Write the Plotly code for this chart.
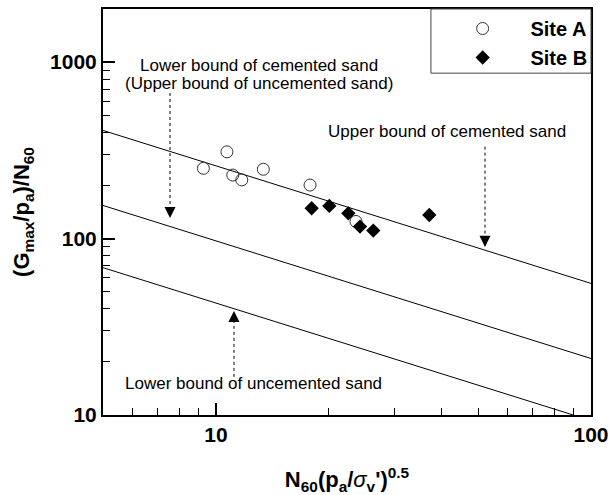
import plotly.graph_objects as go

# Normalised blow count N60(pa/σv')^0.5 and normalised stiffness (Gmax/pa)/N60
site_a_n = [9.26, 10.7, 11.09, 11.72, 13.38, 17.82, 23.63]
site_a_g = [250, 310, 229, 215, 247, 201, 125]

site_b_n = [18.0, 20.06, 22.54, 24.22, 26.28, 37.06]
site_b_g = [148.5, 153, 139, 117, 111, 136]

# Bound lines (straight on log-log), given by their end points
bound_x = [5, 100]
upper_cemented = [410, 55.7]
lower_cemented = [154, 20.9]
lower_uncemented = [68.4, 9.3]

FONT = "Liberation Sans, Arial, Helvetica, sans-serif"

fig = go.Figure()

for ys in (upper_cemented, lower_cemented, lower_uncemented):
    fig.add_trace(go.Scatter(x=bound_x, y=ys, mode="lines",
                             line=dict(color="black", width=1),
                             showlegend=False, hoverinfo="skip"))

fig.add_trace(go.Scatter(x=site_a_n, y=site_a_g, mode="markers",
                         name="\u00a0\u00a0\u00a0\u00a0\u00a0Site A",
                         marker=dict(symbol="circle-open", size=12,
                                     color="#333", line=dict(width=1))))
fig.add_trace(go.Scatter(x=site_b_n, y=site_b_g, mode="markers",
                         name="\u00a0\u00a0\u00a0\u00a0\u00a0Site B",
                         marker=dict(symbol="diamond", size=11, color="black")))

# Legend frame
fig.add_shape(type="rect", xref="paper", yref="paper",
              x0=0.672, x1=1.0, y0=0.842, y1=1.0,
              line=dict(color="#444", width=1), fillcolor="rgba(0,0,0,0)")

ann_font = dict(family=FONT, size=17, color="black")

labels = [
    ("Lower bound of cemented sand", 0.319, 0.862),
    ("(Upper bound of uncemented sand)", 0.319, 0.817),
    ("Upper bound of cemented sand", 0.704, 0.699),
    ("Lower bound of uncemented sand", 0.308, 0.077),
]
for text, x, y in labels:
    fig.add_annotation(text=text, x=x, y=y, xref="paper", yref="paper",
                       showarrow=False, font=ann_font,
                       xanchor="center", yanchor="middle")

# Dotted pointer shafts (x, tail y, tip y) with solid heads
pointers = [
    (0.1373, 0.793, 0.485),
    (0.7828, 0.661, 0.414),
    (0.2684, 0.094, 0.256),
]
for x, y_tail, y_tip in pointers:
    fig.add_shape(type="line", xref="paper", yref="paper",
                  x0=x, x1=x, y0=y_tail, y1=y_tip,
                  line=dict(color="black", width=1, dash="dot"))
    direction = -1 if y_tip < y_tail else 1
    fig.add_annotation(x=x, y=y_tip, xref="paper", yref="paper",
                       ax=0, ay=9 * direction, showarrow=True,
                       arrowhead=2, arrowsize=1.7, arrowwidth=1.3,
                       arrowcolor="black", text="")

fig.update_xaxes(
    type="log", range=[0.69897, 2.0], automargin=False,
    showline=True, linecolor="black", linewidth=2, mirror=True,
    showgrid=False, zeroline=False,
    ticks="inside", ticklen=12, tickwidth=1.5, tickcolor="black",
    tickvals=[10, 100], ticktext=["10", "100"],
    tickfont=dict(family=FONT, size=21, color="black", weight="bold"),
    minor=dict(ticks="inside", ticklen=7, tickwidth=1.2, tickcolor="black",
               tickvals=[5, 6, 7, 8, 9, 20, 30, 40, 50, 60, 70, 80, 90],
               showgrid=False),
    title=dict(text="N<sub>60</sub>(p<sub>a</sub>/<span style=\"font-weight:normal;font-style:italic\">σ</span><sub>v</sub>')<sup>0.5</sup>",
               font=dict(family=FONT, size=22, color="black", weight="bold"),
               standoff=28),
)

fig.update_yaxes(
    type="log", range=[1.0, 3.30103], automargin=False,
    showline=True, linecolor="black", linewidth=2, mirror=True,
    showgrid=False, zeroline=False,
    ticks="inside", ticklen=12, tickwidth=1.5, tickcolor="black",
    tickvals=[10, 100, 1000], ticktext=["10", "100", "1000"],
    tickfont=dict(family=FONT, size=21, color="black", weight="bold"),
    minor=dict(ticks="inside", ticklen=7, tickwidth=1.2, tickcolor="black",
               tickvals=[20, 30, 40, 50, 60, 70, 80, 90,
                         200, 300, 400, 500, 600, 700, 800, 900],
               showgrid=False),
    title=dict(text="(G<sub>max</sub>/p<sub>a</sub>)/N<sub>60</sub>",
               font=dict(family=FONT, size=22, color="black", weight="bold"),
               standoff=14),
)

fig.update_layout(
    width=610, height=495,
    margin=dict(l=103, r=19, t=9, b=80, autoexpand=False),
    paper_bgcolor="white", plot_bgcolor="white",
    font=dict(family=FONT, color="black"),
    legend=dict(x=0.737, y=1.0, xanchor="left", yanchor="top",
                bgcolor="rgba(0,0,0,0)", borderwidth=0,
                font=dict(family=FONT, size=20, color="black", weight="bold"),
                itemwidth=30, tracegroupgap=0),
)

fig.write_html("out.html")
